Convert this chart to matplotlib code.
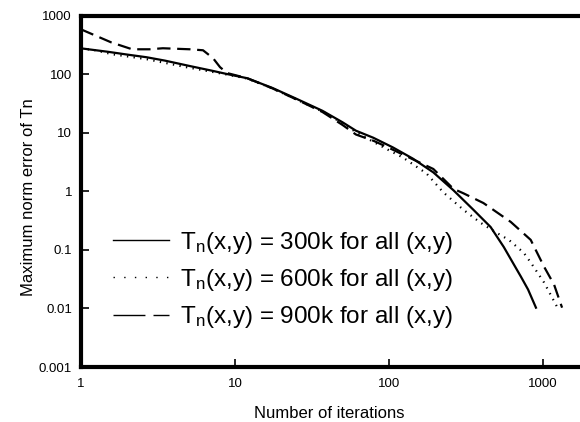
import numpy as np
import matplotlib
matplotlib.use("Agg")
from matplotlib import pyplot as plt
from matplotlib.lines import Line2D

plt.rcParams['font.family'] = ['Liberation Sans', 'DejaVu Sans']
plt.rcParams['mathtext.default'] = 'regular'

# iterations / max norm error
it_300 = [1, 1.5, 2, 2.66, 3.5, 5.1, 7, 8.9, 12, 17.5, 25, 37, 50, 61, 79,
          106, 143, 194, 262, 354, 457, 556, 676, 718, 800, 900]
err_300 = [275, 240, 215, 194, 170, 137, 115, 100, 85, 58, 38, 23.6, 15,
           10.8, 8.2, 5.6, 3.6, 2.1, 1.04, 0.48, 0.245, 0.112, 0.046, 0.035,
           0.021, 0.0103]

it_600 = [1, 1.16, 1.6, 2.66, 4.85, 7, 8.9, 12, 17.5, 25, 37, 50, 61, 79,
          100, 123, 175, 225, 305, 393, 500, 600, 750, 835, 1016, 1230]
err_600 = [262, 265, 218, 180, 131, 110, 98, 84, 57, 37, 23, 14.5, 10.2, 7.0,
           5.0, 3.77, 2.02, 0.96, 0.48, 0.29, 0.195, 0.148, 0.089, 0.060,
           0.0277, 0.0108]

it_900 = [1, 1.57, 2.15, 2.78, 3.4, 5.1, 6.2, 7.2, 8.0, 8.9, 12, 17.5, 25, 37,
          50, 61, 80, 100, 140, 194, 262, 305, 410, 466, 617, 832, 1016, 1180,
          1330]
err_900 = [580, 348, 265, 265, 276, 265, 255, 187, 131, 104, 85, 57, 37, 22.5,
           13.5, 9.3, 7.2, 5.5, 3.6, 2.4, 1.1, 0.92, 0.63, 0.5, 0.30, 0.148,
           0.0515, 0.0255, 0.0103]

labels = [r'$T_n$(x,y) = 300k for all (x,y)',
          r'$T_n$(x,y) = 600k for all (x,y)',
          r'$T_n$(x,y) = 900k for all (x,y)']

x_ticks = [1, 10, 100, 1000]
x_ticklabels = ['1', '10', '100', '1000']
y_ticks = [0.001, 0.01, 0.1, 1, 10, 100, 1000]
y_ticklabels = ['0.001', '0.01', '0.1', '1', '10', '100', '1000']

fig = plt.figure(figsize=(5.8, 4.22), dpi=100)
ax = fig.add_axes([81/580, 1 - 367/422, 1 - 81/580, (367 - 15.5)/422])

lw = 1.6
ax.plot(it_300, err_300, color='black', lw=lw, linestyle='-')
ax.plot(it_600, err_600, color='black', lw=lw, linestyle=(0, (0.6, 2.4)))
ax.plot(it_900, err_900, color='black', lw=lw, linestyle=(0, (6, 3)))

ax.set_xscale('log')
ax.set_yscale('log')
ax.set_xlim(1, 10 ** (499/154))
ax.set_ylim(0.001, 1000)

ax.set_xticks(x_ticks)
ax.set_xticklabels(x_ticklabels)
ax.set_yticks(y_ticks)
ax.set_yticklabels(y_ticklabels)
ax.minorticks_off()
ax.tick_params(direction='in', length=6, width=1.2, labelsize=9.5)
ax.tick_params(axis='y', pad=6.5)
ax.tick_params(axis='x', pad=8)

for side in ('left', 'top', 'bottom'):
    ax.spines[side].set_linewidth(3)
ax.spines['right'].set_visible(False)

ax.set_xlabel('Number of iterations', fontsize=12)
ax.set_ylabel('Maximum norm error of Tn', fontsize=12)
ax.xaxis.set_label_coords(0.497, -0.11)
ax.yaxis.set_label_coords(-0.09, 0.484)

handles = [Line2D([], [], color='black', lw=1, linestyle='-'),
           Line2D([], [], color='black', lw=1, linestyle=(0, (1, 6.7))),
           Line2D([], [], color='black', lw=1, linestyle=(0, (23, 5.8)))]
ax.legend(handles, labels, loc='center left',
          bbox_to_anchor=(113/580, 1 - 280/422), bbox_transform=fig.transFigure,
          frameon=False, fontsize=17.5, handlelength=2.3, handletextpad=0.45,
          labelspacing=0.46, borderpad=0, borderaxespad=0)

fig.savefig('out.png', dpi=100)
